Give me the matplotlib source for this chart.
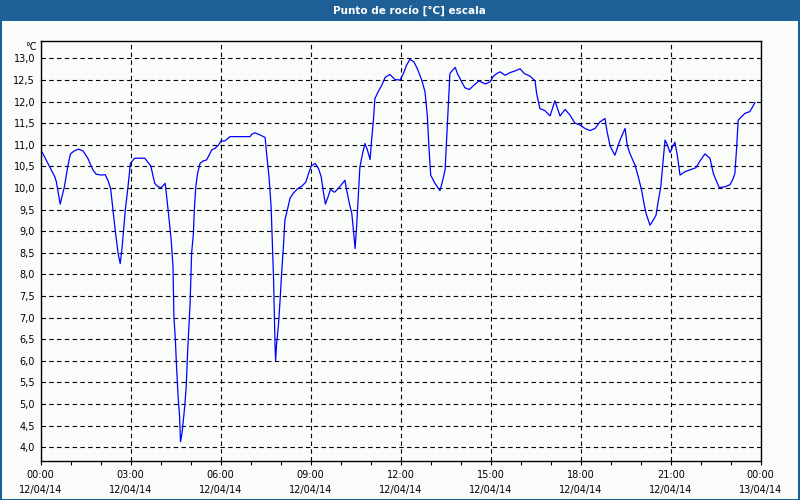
import matplotlib.pyplot as plt
from matplotlib.patches import Rectangle
from matplotlib.ticker import MultipleLocator

# hora del dia (h) y punto de rocio (C)
horas = [0.00, 0.13, 0.30, 0.47, 0.52, 0.65, 0.79, 0.90, 0.99, 1.12, 1.26, 1.41, 1.57,
         1.74, 1.85, 2.02, 2.15, 2.24, 2.33, 2.41, 2.49, 2.58, 2.65, 2.71, 2.82, 2.91,
         2.99, 3.13, 3.47, 3.67, 3.80, 3.91, 4.02, 4.15, 4.26, 4.35, 4.41, 4.44, 4.49,
         4.52, 4.58, 4.63, 4.66, 4.71, 4.80, 4.85, 4.90, 4.94, 4.98, 5.03, 5.09, 5.12,
         5.17, 5.23, 5.31, 5.42, 5.53, 5.61, 5.70, 5.81, 5.92, 6.01, 6.14, 6.31, 6.64,
         6.98, 7.03, 7.14, 7.31, 7.48, 7.53, 7.61, 7.68, 7.72, 7.76, 7.79, 7.81, 7.83,
         7.86, 7.92, 7.98, 8.03, 8.09, 8.14, 8.22, 8.31, 8.42, 8.57, 8.70, 8.84, 8.93,
         9.02, 9.15, 9.26, 9.35, 9.43, 9.49, 9.58, 9.66, 9.77, 9.81, 9.98, 10.14, 10.20,
         10.29, 10.37, 10.42, 10.48, 10.53, 10.59, 10.64, 10.73, 10.81, 10.89, 10.98,
         11.03, 11.09, 11.14, 11.25, 11.37, 11.48, 11.64, 11.81, 11.98, 12.09, 12.20,
         12.31, 12.44, 12.55, 12.70, 12.81, 12.89, 12.94, 13.00, 13.14, 13.31, 13.40,
         13.48, 13.53, 13.59, 13.64, 13.73, 13.82, 13.89, 14.00, 14.14, 14.29, 14.44,
         14.61, 14.72, 14.83, 14.98, 15.09, 15.20, 15.31, 15.48, 15.64, 15.81, 15.98,
         16.12, 16.31, 16.48, 16.53, 16.64, 16.81, 16.98, 17.14, 17.31, 17.48, 17.64,
         17.81, 17.98, 18.14, 18.31, 18.48, 18.64, 18.81, 18.87, 18.98, 19.14, 19.31,
         19.48, 19.55, 19.64, 19.81, 19.92, 20.03, 20.11, 20.18, 20.31, 20.42, 20.51,
         20.59, 20.67, 20.73, 20.81, 20.87, 20.98, 21.07, 21.14, 21.22, 21.31, 21.48,
         21.64, 21.84, 21.98, 22.14, 22.31, 22.42, 22.53, 22.62, 22.81, 22.98, 23.07,
         23.14, 23.20, 23.25, 23.33, 23.48, 23.64, 23.73, 23.81]
punto_rocio = [10.89, 10.72, 10.49, 10.26, 10.15, 9.63, 10.03, 10.49, 10.79, 10.86, 10.90,
               10.86, 10.69, 10.42, 10.32, 10.30, 10.31, 10.18, 9.99, 9.49, 8.99, 8.49,
               8.25, 8.60, 9.49, 10.03, 10.57, 10.69, 10.69, 10.51, 10.11, 10.03, 10.01,
               10.11, 9.41, 8.79, 8.18, 7.02, 6.48, 5.98, 5.17, 4.71, 4.13, 4.32, 4.94,
               5.40, 6.25, 6.79, 7.33, 8.49, 8.95, 9.49, 10.03, 10.34, 10.57, 10.63, 10.65,
               10.76, 10.88, 10.92, 10.99, 11.09, 11.09, 11.19, 11.19, 11.19, 11.24, 11.28,
               11.23, 11.17, 10.80, 10.26, 9.57, 8.79, 7.95, 7.02, 6.40, 6.00, 6.37, 6.79,
               7.41, 8.02, 8.64, 9.26, 9.49, 9.76, 9.88, 9.99, 10.04, 10.14, 10.34, 10.51,
               10.57, 10.45, 10.26, 9.88, 9.63, 9.80, 9.97, 9.91, 9.91, 10.04, 10.18, 9.95,
               9.64, 9.41, 9.06, 8.60, 9.10, 9.88, 10.49, 10.80, 11.03, 10.88, 10.66,
               11.11, 11.57, 12.07, 12.23, 12.38, 12.56, 12.63, 12.51, 12.50, 12.65, 12.85,
               12.98, 12.92, 12.77, 12.50, 12.23, 11.65, 10.96, 10.30, 10.11, 9.94, 10.18,
               10.42, 11.11, 11.96, 12.65, 12.73, 12.79, 12.65, 12.50, 12.32, 12.28, 12.38,
               12.48, 12.44, 12.41, 12.46, 12.59, 12.65, 12.69, 12.61, 12.67, 12.71, 12.76,
               12.65, 12.59, 12.48, 12.19, 11.84, 11.79, 11.67, 12.02, 11.67, 11.82, 11.69,
               11.50, 11.46, 11.38, 11.33, 11.38, 11.53, 11.61, 11.34, 10.97, 10.76, 11.11,
               11.38, 10.99, 10.80, 10.53, 10.26, 9.95, 9.64, 9.41, 9.14, 9.26, 9.37,
               9.72, 10.03, 10.49, 11.11, 11.03, 10.82, 10.97, 11.06, 10.76, 10.30, 10.38,
               10.42, 10.47, 10.63, 10.79, 10.69, 10.34, 10.15, 10.01, 10.03, 10.08, 10.20,
               10.34, 10.96, 11.57, 11.63, 11.73, 11.77, 11.88, 11.98]

tick_horas = [0, 3, 6, 9, 12, 15, 18, 21, 24]
tick_textos = ["00:00\n12/04/14", "03:00\n12/04/14", "06:00\n12/04/14",
               "09:00\n12/04/14", "12:00\n12/04/14", "15:00\n12/04/14",
               "18:00\n12/04/14", "21:00\n12/04/14", "00:00\n13/04/14"]
y_ticks = [4.0, 4.5, 5.0, 5.5, 6.0, 6.5, 7.0, 7.5, 8.0, 8.5, 9.0, 9.5,
           10.0, 10.5, 11.0, 11.5, 12.0, 12.5, 13.0]

fondo = '#fafcfa'
azul_barra = '#1e5f96'

fig = plt.figure(figsize=(8, 5), dpi=100, facecolor=fondo)

# barra de titulo y marco
fig.patches.append(Rectangle((0, 1 - 21 / 500), 1, 21 / 500, transform=fig.transFigure,
                             facecolor=azul_barra, edgecolor='none', zorder=0))
fig.patches.append(Rectangle((0.5 / 800, 0.5 / 500), 1 - 1.5 / 800, 1 - 1.5 / 500,
                             transform=fig.transFigure, facecolor='none',
                             edgecolor=azul_barra, linewidth=1.5, zorder=1))
fig.text(409 / 800, 1 - 10.5 / 500, "Punto de rocío [°C] escala", color='white',
         fontsize=7.5, fontweight='bold', ha='center', va='center')

ax = fig.add_axes([40.7 / 800, 1 - 460.7 / 500, 720 / 800, 420 / 500])
ax.set_facecolor(fondo)

ax.plot(horas, punto_rocio, color='#0000ff', linewidth=0.9)

ax.set_xlim(0, 24)
ax.set_ylim(3.69, 13.41)

ax.set_xticks(tick_horas)
ax.set_xticklabels(tick_textos, fontsize=7, linespacing=1.55)
ax.xaxis.set_minor_locator(MultipleLocator(1))
ax.set_yticks(y_ticks)
ax.set_yticklabels([f"{v:.1f}".replace('.', ',') for v in y_ticks], fontsize=7)

ax.tick_params(axis='x', which='both', length=3, width=0.8, pad=4, colors='black')
ax.tick_params(axis='y', length=0, pad=4, colors='black')

ax.grid(True, which='major', color='black', linestyle=(0, (4, 3)), linewidth=0.8)
for s in ax.spines.values():
    s.set_linewidth(1)
    s.set_color('black')

ax.text(-4 / 720, 1 - 6 / 420, "°C", transform=ax.transAxes, fontsize=7,
        ha='right', va='center')

fig.savefig('out.png', dpi=100, facecolor=fondo)
